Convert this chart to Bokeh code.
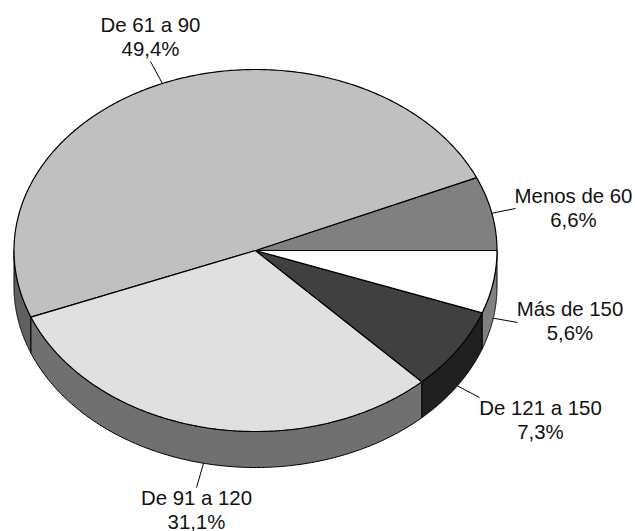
import numpy as np
from bokeh.plotting import figure
from bokeh.models import Range1d
from bokeh.core.properties import value
from bokeh.embed import file_html
from bokeh.resources import INLINE

categories = ["Menos de 60", "De 61 a 90", "De 91 a 120", "De 121 a 150", "Más de 150"]
shares = [6.6, 49.4, 31.1, 7.3, 5.6]
share_labels = ["6,6%", "49,4%", "31,1%", "7,3%", "5,6%"]

top_colors = ["#808080", "#c0c0c0", "#e0e0e0", "#404040", "#ffffff"]
side_colors = ["#606060", "#606060", "#707070", "#202020", "#808080"]

# layout (window pixels; the page template has no body margin)
W, H = 635, 531
CX, CY, RX, RY, DEPTH = 255, 250, 241.5, 181, 36
label_x = [573, 150, 196, 540, 569.5]
label_base = [195, 24, 497, 407, 308]
leader_end = [(515, 208), (150, 61), (196, 487), (479, 397), (517, 322)]
LINE_GAP = 24
FONT = "20.4px"


def ex(a):
    return CX + RX * np.cos(np.radians(a))


def ey(a, drop=0.0):
    return CY - RY * np.sin(np.radians(a)) + drop


p = figure(width=W, height=H, output_backend="svg", toolbar_location=None,
           x_range=Range1d(0, W), y_range=Range1d(H, 0),
           x_axis_type=None, y_axis_type=None, min_border=0,
           outline_line_color=None, background_fill_color="white",
           border_fill_color="white")
p.grid.visible = False

total = sum(shares)
edges = np.concatenate([[0.0], np.cumsum(shares) / total * 360.0])

# walls: only the front half (180..360 degrees) shows
for i in range(len(shares)):
    a0, a1 = max(edges[i], 180.0), edges[i + 1]
    if a1 <= a0:
        continue
    t = np.linspace(a0, a1, 120)
    xs = np.concatenate([ex(t), ex(t[::-1])])
    ys = np.concatenate([ey(t), ey(t[::-1], DEPTH)])
    p.patch(xs, ys, fill_color=side_colors[i], line_color="black", line_width=1)

# top faces
for i in range(len(shares)):
    t = np.linspace(edges[i], edges[i + 1], 240)
    xs = np.concatenate([[CX], ex(t)])
    ys = np.concatenate([[CY], ey(t)])
    p.patch(xs, ys, fill_color=top_colors[i], line_color="black", line_width=1.2)

# leaders and labels
for i, cat in enumerate(categories):
    mid = (edges[i] + edges[i + 1]) / 2
    drop = DEPTH if mid > 180 else 0.0
    ex_end, ey_end = leader_end[i]
    p.line([ex(mid), ex_end], [ey(mid, drop), ey_end], line_color="black", line_width=1)
    lx = label_x[i]
    by = label_base[i]
    for txt, yy in ((cat, by), (share_labels[i], by + LINE_GAP)):
        p.text([lx], [yy], text=[txt], text_font=value("Liberation Sans"),
               text_font_size=FONT, text_color="#111111",
               text_align="center", text_baseline="alphabetic")

open("out.html", "w").write(file_html(p, INLINE))
